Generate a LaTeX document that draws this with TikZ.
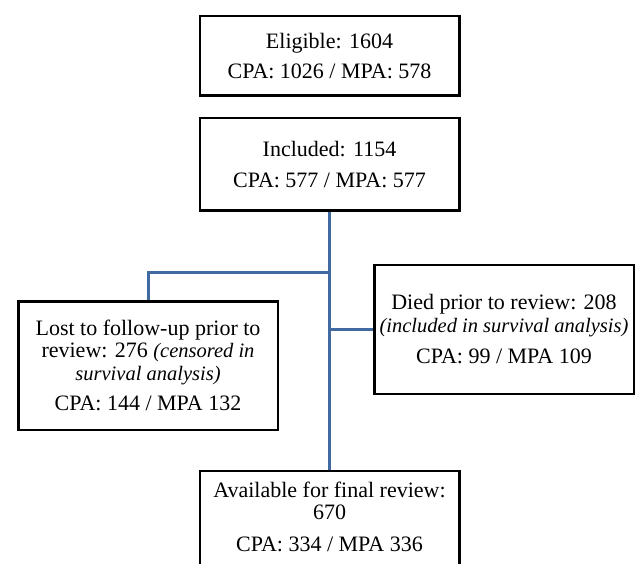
\documentclass[tikz,border=0pt]{standalone}
\usepackage{fontspec}
\setmainfont{Liberation Serif}
\usepackage{tikz}
\usetikzlibrary{calc}
\definecolor{linkblue}{RGB}{65,107,160}
\tikzset{
    box/.style={draw, line width=2.5pt, minimum width=259.5pt, align=center, inner sep=2pt, font=\fontsize{22}{22.5}\selectfont},
    link/.style={draw=linkblue, line width=3pt}
}
\newcommand{\aside}[1]{{\fontsize{20.5}{22.5}\selectfont\itshape #1}}

\begin{document}
\begin{tikzpicture}[x=1pt, y=-1pt]
    \useasboundingbox (0,0) rectangle (640,564);

    % --- Boxes ---
    \node (elig) [box, minimum height=79.5pt] at (329.5,56) {Eligible: 1604\\[7pt] CPA: 1026 / MPA: 578};
    \node (incl) [box, minimum height=92.5pt] at (329.5,164.5) {Included: 1154\\[9pt] CPA: 577 / MPA: 577};
    \node (lost) [box, minimum height=128.5pt] at (148,365.5) {Lost to follow-up prior to\\ review: 276 \aside{(censored in}\\ \aside{survival analysis)}\\[8pt] CPA: 144 / MPA 132};
    \node (died) [box, minimum height=128.5pt] at (504,329.5) {Died prior to review: 208\\ \aside{(included in survival analysis)}\\[9pt] CPA: 99 / MPA 109};
    \node (avail) [box, anchor=north, inner ysep=11pt, text depth=60pt] at (329.5,469.5) {Available for final review:\\ 670\\[9pt] CPA: 334 / MPA 336};

    % --- Connectors ---
    \coordinate (lostjoin) at ($(incl.south)!0.236!(avail.north)$);
    \draw[link] (incl.south) -- (avail.north);
    \draw[link] (lost.north) |- (lostjoin);
    \draw[link] (died.west) -- (died.west -| incl.south);
\end{tikzpicture}
\end{document}
